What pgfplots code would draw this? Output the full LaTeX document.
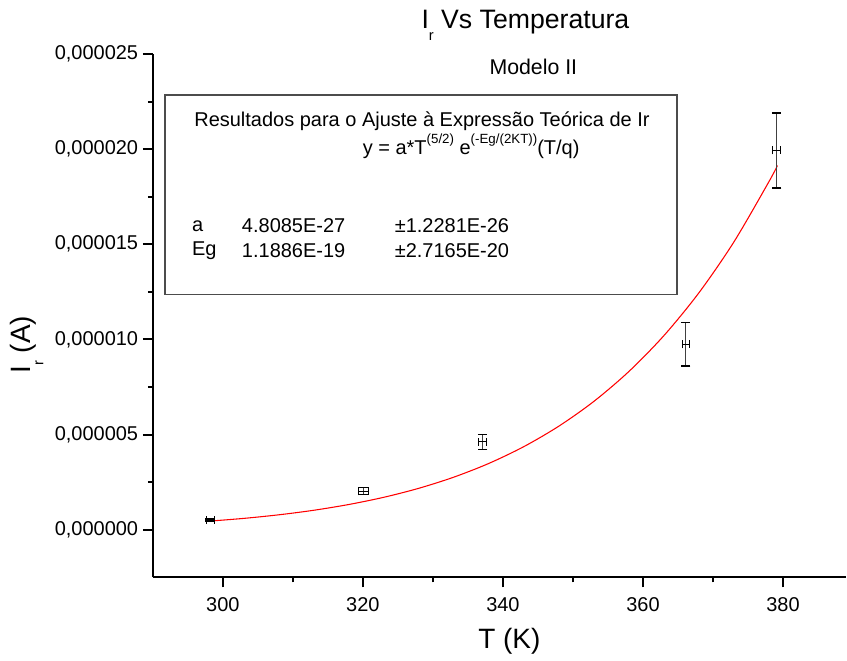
\documentclass[border=0pt]{standalone}
\usepackage{pgfplots}
\pgfplotsset{compat=1.18}
\usepackage{pgfplotstable}
\usepackage{fontspec}
\setmainfont{Liberation Sans}

% measured reverse current with uncertainties
\pgfplotstableread{
T      I          dT    dI
298.2  0.51e-6    0.55  0.05e-6
320.1  2.02e-6    0.70  0.18e-6
337.1  4.62e-6    0.60  0.39e-6
366.1  9.74e-6    0.50  1.14e-6
379.1  19.93e-6   0.55  1.97e-6
}\medidas

% fitted curve (model II)
\pgfplotstableread{
T      I
298    0.450e-6
303    0.597e-6
308    0.785e-6
313    1.024e-6
318    1.327e-6
323    1.706e-6
328    2.179e-6
333    2.765e-6
338    3.486e-6
343    4.369e-6
348    5.445e-6
353    6.747e-6
358    8.318e-6
363    10.203e-6
368    12.454e-6
373    15.128e-6
378    18.294e-6
379.2  19.135e-6
}\ajuste

\newcommand{\tk}{\fontsize{15}{18}\selectfont}

\begin{document}
\begin{tikzpicture}
\begin{axis}[
  at={(0,0)}, anchor=south west,
  scale only axis,
  width=520.5pt, height=393pt,
  xmin=290, xmax=389,
  ymin=-2.5e-6, ymax=25e-6,
  axis lines*=left,
  axis line style={line width=1.5pt},
  every tick/.style={black, line width=1.5pt},
  tick align=outside,
  major tick length=7.5pt,
  minor tick length=3.75pt,
  xtick={300,320,340,360,380},
  minor x tick num=1,
  ytick={0,5e-6,10e-6,15e-6,20e-6,25e-6},
  yticklabels={{0,000000},{0,000005},{0,000010},{0,000015},{0,000020},{0,000025}},
  minor y tick num=1,
  scaled y ticks=false,
  /pgf/number format/assume math mode=true,
  ticklabel style={font=\tk},
  xticklabel style={yshift=-4.5pt},
  clip=false,
]
\addplot[red, line width=0.8pt, smooth] table[x=T, y=I] {\ajuste};
% vertical uncertainty
\addplot[draw=none, mark=none, forget plot,
  error bars/.cd,
    y dir=both, y explicit,
    error bar style={draw=black!75, line width=0.9pt},
    error mark options={draw=black, line width=0.9pt, mark size=3.6pt, rotate=90},
] table[x=T, y=I, y error=dI] {\medidas};
% horizontal uncertainty
\addplot[draw=none, mark=none, forget plot,
  error bars/.cd,
    x dir=both, x explicit,
    error bar style={draw=black, line width=0.75pt},
    error mark options={draw=black, line width=0.75pt, mark size=3pt, rotate=90},
] table[x=T, y=I, x error=dT] {\medidas};
\end{axis}

\begin{scope}[x=0.75pt, y=-0.75pt, shift={(-114.75pt,433.5pt)}]
  \path[use as bounding box] (0,0) rectangle (847,661);
  % titles
  \node[font=\fontsize{20}{24}\selectfont] at (526,25)
    {I\raisebox{-0.45em}{\fontsize{11}{12}\selectfont r} Vs Temperatura};
  \node[font=\fontsize{16}{19}\selectfont] at (534,67) {Modelo II};
  % axis titles
  \node[font=\fontsize{21}{25}\selectfont] at (510,642) {T (K)};
  \node[font=\fontsize{21}{25}\selectfont, rotate=90] at (27,345)
    {I\raisebox{-0.45em}{\fontsize{11}{12}\selectfont r} (A)};
  % fit results box
  \draw[black!70, line width=1.2pt] (165,95) rectangle (678,295);
  \node[font=\tk] at (422.5,121) {Resultados para o Ajuste à Expressão Teórica de Ir};
  \node[font=\tk, anchor=west, inner sep=0pt] at (363,146)
    {y = a*T\raisebox{0.55em}{\fontsize{10}{12}\selectfont (5/2)} e\raisebox{0.55em}{\fontsize{10}{12}\selectfont (-Eg/(2KT))}(T/q)};
  \node[font=\tk, anchor=west, inner sep=0pt] at (192,226) {a};
  \node[font=\tk, anchor=west, inner sep=0pt] at (242,226) {4.8085E-27};
  \node[font=\tk, anchor=west, inner sep=0pt] at (395,226) {±1.2281E-26};
  \node[font=\tk, anchor=west, inner sep=0pt] at (192,251) {Eg};
  \node[font=\tk, anchor=west, inner sep=0pt] at (242,251) {1.1886E-19};
  \node[font=\tk, anchor=west, inner sep=0pt] at (395,251) {±2.7165E-20};
\end{scope}
\end{tikzpicture}
\end{document}
